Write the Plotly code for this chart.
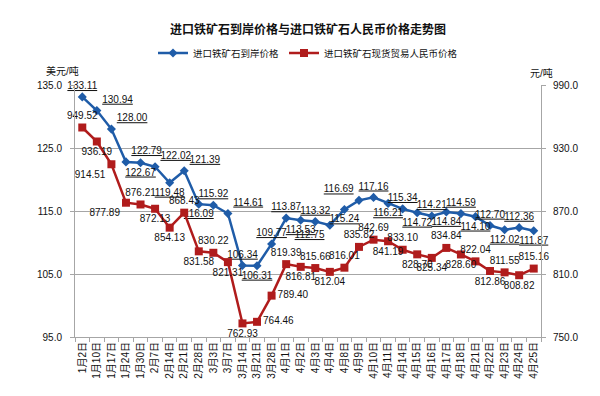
import plotly.graph_objects as go

dates = ["1月2日", "1月10日", "1月17日", "1月24日", "1月30日", "2月7日", "2月14日", "2月21日",
         "2月28日", "3月3日", "3月7日", "3月14日", "3月21日", "3月28日", "4月1日", "4月2日",
         "4月3日", "4月4日", "4月8日", "4月9日", "4月10日", "4月11日", "4月14日", "4月15日",
         "4月16日", "4月17日", "4月18日", "4月21日", "4月22日", "4月23日", "4月24日", "4月25日"]

usd_price = [133.11, 130.94, 128.00, 122.79, 122.67, 122.02, 119.48, 121.39,
             116.09, 115.92, 114.61, 106.34, 106.31, 109.77, 113.87, 113.53,
             113.32, 112.75, 115.24, 116.69, 117.16, 116.21, 115.34, 114.72,
             114.21, 114.84, 114.59, 114.10, 112.70, 112.02, 112.36, 111.87]

cny_price = [949.52, 936.19, 914.51, 877.89, 876.21, 872.13, 854.13, 868.43,
             831.58, 830.22, 821.31, 762.93, 764.46, 789.40, 819.39, 816.81,
             815.66, 812.04, 816.01, 835.82, 842.69, 841.19, 833.10, 828.70,
             825.34, 834.84, 828.60, 822.04, 812.86, 811.55, 808.82, 815.16]

usd_name = "进口铁矿石到岸价格"
cny_name = "进口铁矿石现货贸易人民币价格"
title_text = "进口铁矿石到岸价格与进口铁矿石人民币价格走势图"

usd_pos = ["top center", "top right", "top right", "top right", "bottom center", "top right",
           "bottom center", "top right", "bottom center", "top center", "top right", "top center",
           "bottom center", "top center", "top center", "bottom center", "top center", "bottom left",
           "bottom center", "top left", "top center", "bottom center", "top center", "bottom center",
           "top center", "bottom center", "top center", "bottom center", "top center", "bottom center",
           "top center", "bottom center"]

cny_pos = ["top center", "bottom center", "bottom left", "bottom left", "top center", "bottom center",
           "bottom center", "top center", "bottom center", "top center", "bottom center", "bottom center",
           "middle right", "middle right", "top center", "bottom center", "top center", "bottom center",
           "top center", "top center", "top center", "bottom center", "top center", "bottom center",
           "bottom center", "top center", "bottom center", "top center", "bottom center", "top center",
           "bottom center", "top center"]

BLUE = "#1F5CA8"
RED = "#B01C1C"
GRID = "#A6A6A6"
FONT = "Liberation Sans, Noto Sans CJK SC, sans-serif"

fig = go.Figure()
fig.add_trace(go.Scatter(
    x=dates, y=usd_price, name=usd_name, mode="lines+markers+text",
    line=dict(color=BLUE, width=2.5),
    marker=dict(symbol="diamond", size=7, color=BLUE),
    text=[f"<u>{v:.2f}</u>" for v in usd_price],
    textposition=usd_pos,
    textfont=dict(size=10, color="#111111", family=FONT),
    yaxis="y", cliponaxis=False,
))
fig.add_trace(go.Scatter(
    x=dates, y=cny_price, name=cny_name, mode="lines+markers+text",
    line=dict(color=RED, width=2.5),
    marker=dict(symbol="square", size=8, color=RED),
    text=[f"{v:.2f}" for v in cny_price],
    textposition=cny_pos,
    textfont=dict(size=10, color="#111111", family=FONT),
    yaxis="y2", cliponaxis=False,
))

fig.update_layout(
    width=600, height=396,
    paper_bgcolor="white", plot_bgcolor="white",
    font=dict(family=FONT, size=10, color="#111111"),
    margin=dict(l=67, r=67, t=68, b=67),
    title=dict(text=f"<b>{title_text}</b>", x=0.5, xanchor="center",
               y=1 - 22 / 396, yanchor="middle", yref="container",
               font=dict(size=12, color="#111111")),
    legend=dict(orientation="h", x=0.5, xanchor="center", yref="container",
                y=1 - 45 / 396, yanchor="middle", itemwidth=30,
                font=dict(size=9.5), bgcolor="rgba(0,0,0,0)", tracegroupgap=0),
    xaxis=dict(type="category", tickangle=-90, tickfont=dict(size=10),
               showline=True, linecolor=GRID, linewidth=1,
               ticks="outside", tickson="boundaries", ticklen=4, tickcolor=GRID,
               showgrid=False, range=[-0.5, len(dates) - 0.5]),
    yaxis=dict(range=[95, 135], dtick=10, tick0=95, tickformat=".1f",
               showgrid=True, gridcolor=GRID, gridwidth=1,
               showline=True, linecolor=GRID, ticks="outside", ticklen=4, tickcolor=GRID,
               ticklabelstandoff=6, zeroline=False, tickfont=dict(size=10)),
    yaxis2=dict(range=[750, 990], dtick=60, tick0=750, tickformat=".1f",
                overlaying="y", side="right", showgrid=False,
                showline=True, linecolor=GRID, ticks="outside", ticklen=4, tickcolor=GRID,
                ticklabelstandoff=5, zeroline=False, tickfont=dict(size=10)),
    annotations=[
        dict(text="美元/吨", xref="paper", yref="paper", x=-0.026, y=1.054,
             showarrow=False, font=dict(size=10), xanchor="center", yanchor="middle"),
        dict(text="元/吨", xref="paper", yref="paper", x=1.002, y=1.046,
             showarrow=False, font=dict(size=10), xanchor="center", yanchor="middle"),
    ],
)

fig.write_html("out.html")
